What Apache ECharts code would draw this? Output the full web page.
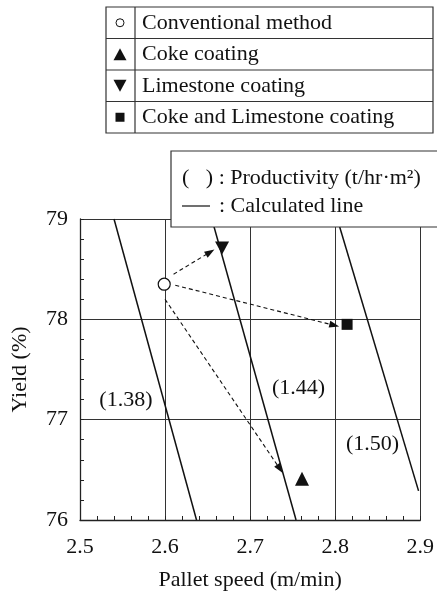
<!DOCTYPE html>
<html>
<head>
<meta charset="utf-8">
<script src="https://cdn.jsdelivr.net/npm/echarts@6/dist/echarts.min.js"></script>
<style>html,body{margin:0;padding:0;background:#fff}#c{width:437px;height:596px}</style>
</head>
<body>
<div id="c"></div>
<script>
// ---- data ----
const xTicks = [2.5, 2.6, 2.7, 2.8, 2.9];
const yTicks = [76, 77, 78, 79];
const conventional = [[2.599, 78.35]];
const cokeCoating = [[2.761, 76.41]];
const limestoneCoating = [[2.667, 78.71]];
const cokeLimestoneCoating = [[2.814, 77.95]];
const calcLine138 = [[2.540, 79], [2.637, 76]];
const calcLine144 = [[2.655, 79], [2.754, 76]];
const calcLine150 = [[2.8025, 79], [2.898, 76.29]];
const productivityLabels = [[2.554, 77.19, '(1.38)'], [2.757, 77.31, '(1.44)'], [2.844, 76.755, '(1.50)']];
const arrowFrom = [[2.610, 78.45], [2.612, 78.34], [2.600, 78.20]];
const arrowTo = [[2.653, 78.67], [2.799, 77.94], [2.735, 76.51]];
const legendNames = ['Conventional method', 'Coke coating', 'Limestone coating', 'Coke and Limestone coating'];
const noteTexts = ['(   ) : Productivity (t/hr\u00b7m\u00b2)', ': Calculated line'];

const FONT = 'Liberation Serif';
const INK = '#111';
const chart = echarts.init(document.getElementById('c'));

const calcLineSeries = [calcLine138, calcLine144, calcLine150].map(d => ({
  type: 'line', data: d, symbol: 'none', silent: true,
  lineStyle: { color: INK, width: 1.5 }, z: 3
}));

// legend table graphic
const rowTop = 7, rowH = 31.5, tLeft = 106, tRight = 433, divX = 135, symX = 120;
const g = [];
g.push({ type: 'rect', z: 100, shape: { x: tLeft, y: rowTop, width: tRight - tLeft, height: rowH * 4 },
  style: { fill: '#fff', stroke: '#333', lineWidth: 1.2 } });
for (let i = 1; i < 4; i++) {
  g.push({ type: 'line', z: 101, shape: { x1: tLeft, y1: rowTop + rowH * i, x2: tRight, y2: rowTop + rowH * i },
    style: { stroke: '#333', lineWidth: 1.2 } });
}
g.push({ type: 'line', z: 101, shape: { x1: divX, y1: rowTop, x2: divX, y2: rowTop + rowH * 4 },
  style: { stroke: '#333', lineWidth: 1.2 } });
const cy = i => rowTop + rowH * i + rowH / 2;
g.push({ type: 'circle', z: 102, shape: { cx: symX, cy: cy(0), r: 4 }, style: { fill: '#fff', stroke: INK, lineWidth: 1 } });
g.push({ type: 'polygon', z: 102, shape: { points: [[symX, cy(1) - 6], [symX + 6.5, cy(1) + 6], [symX - 6.5, cy(1) + 6]] }, style: { fill: INK } });
g.push({ type: 'polygon', z: 102, shape: { points: [[symX, cy(2) + 6], [symX + 6.5, cy(2) - 6], [symX - 6.5, cy(2) - 6]] }, style: { fill: INK } });
g.push({ type: 'rect', z: 102, shape: { x: symX - 4.5, y: cy(3) - 4.5, width: 9, height: 9 }, style: { fill: INK } });
legendNames.forEach((t, i) => {
  g.push({ type: 'text', z: 102, x: 142, y: cy(i), style: { text: t, font: '22px "' + FONT + '"', fill: INK, verticalAlign: 'middle', align: 'left' } });
});
// note box
g.push({ type: 'rect', z: 100, shape: { x: 171, y: 151, width: 270, height: 76 },
  style: { fill: '#fff', stroke: '#333', lineWidth: 1.2 } });
g.push({ type: 'text', z: 102, x: 182, y: 178, style: { text: noteTexts[0], font: '22px "' + FONT + '"', fill: INK, verticalAlign: 'middle' } });
g.push({ type: 'line', z: 102, shape: { x1: 182, y1: 206, x2: 210, y2: 206 }, style: { stroke: INK, lineWidth: 1.2 } });
g.push({ type: 'text', z: 102, x: 219, y: 206, style: { text: noteTexts[1], font: '22px "' + FONT + '"', fill: INK, verticalAlign: 'middle' } });

const option = {
  animation: false,
  backgroundColor: '#fff',
  textStyle: { fontFamily: FONT },
  grid: { left: 80, right: 12, top: 219, bottom: 75, show: false },
  xAxis: {
    type: 'value', min: xTicks[0], max: xTicks[xTicks.length - 1], interval: 0.1,
    name: 'Pallet speed (m/min)', nameLocation: 'middle', nameGap: 49,
    nameTextStyle: { fontFamily: FONT, fontSize: 22, color: INK },
    axisLine: { show: true, lineStyle: { color: '#222', width: 1.3 } },
    axisTick: { show: true, inside: true, length: 4, lineStyle: { color: '#222' } },
    minorTick: { show: true, splitNumber: 5, length: 4, lineStyle: { color: '#222' } },
    axisLabel: { fontFamily: FONT, fontSize: 22, color: INK, margin: 16, formatter: v => v.toFixed(1) },
    splitLine: { show: true, lineStyle: { color: '#333', width: 1 } }
  },
  yAxis: {
    type: 'value', min: yTicks[0], max: yTicks[yTicks.length - 1], interval: 1,
    name: 'Yield (%)', nameLocation: 'middle', nameGap: 49,
    nameTextStyle: { fontFamily: FONT, fontSize: 22, color: INK },
    axisLine: { show: true, lineStyle: { color: '#222', width: 1.3 } },
    axisTick: { show: true, inside: true, length: 4, lineStyle: { color: '#222' } },
    minorTick: { show: true, splitNumber: 5, length: 4, lineStyle: { color: '#222' } },
    axisLabel: { fontFamily: FONT, fontSize: 22, color: INK, margin: 12 },
    splitLine: { show: true, lineStyle: { color: '#333', width: 1 } }
  },
  series: [
    ...calcLineSeries,
    {
      type: 'scatter', name: legendNames[0], data: conventional, symbol: 'circle', symbolSize: 12, z: 5,
      itemStyle: { color: '#fff', borderColor: INK, borderWidth: 1.2, opacity: 1 },
      markLine: {
        silent: true, symbol: ['none', 'triangle'], symbolSize: [7, 10], animation: false,
        label: { show: false },
        lineStyle: { color: INK, type: [4, 3], width: 1.1, opacity: 1 },
        data: arrowFrom.map((p, i) => [{ coord: p }, { coord: arrowTo[i] }])
      }
    },
    { type: 'scatter', name: legendNames[1], data: cokeCoating, symbol: 'triangle', symbolSize: [14, 14], z: 5, itemStyle: { color: INK, opacity: 1 } },
    { type: 'scatter', name: legendNames[2], data: limestoneCoating, symbol: 'triangle', symbolRotate: 180, symbolSize: [14, 13], z: 5, itemStyle: { color: INK, opacity: 1 } },
    { type: 'scatter', name: legendNames[3], data: cokeLimestoneCoating, symbol: 'rect', symbolSize: 11, z: 5, itemStyle: { color: INK, opacity: 1 } },
    {
      type: 'scatter', data: productivityLabels, symbolSize: 0, silent: true, z: 6,
      itemStyle: { opacity: 1 },
      label: { show: true, position: 'inside', formatter: p => p.data[2], fontFamily: FONT, fontSize: 22, color: INK, opacity: 1 }
    }
  ],
  graphic: g
};
chart.setOption(option);
</script>
</body>
</html>
